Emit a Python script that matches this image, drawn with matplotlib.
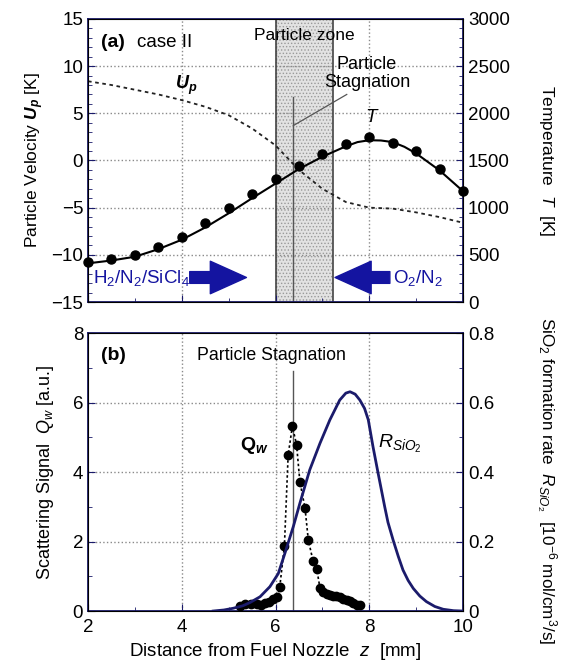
import numpy as np
import matplotlib
matplotlib.use('Agg')
import matplotlib.pyplot as plt
from matplotlib.ticker import MultipleLocator

plt.rcParams['font.family'] = ['Liberation Sans', 'DejaVu Sans']
plt.rcParams['mathtext.fontset'] = 'custom'
plt.rcParams['mathtext.rm'] = 'Liberation Sans'
plt.rcParams['mathtext.it'] = 'Liberation Sans:italic'
plt.rcParams['mathtext.bf'] = 'Liberation Sans:bold'
plt.rcParams['mathtext.sf'] = 'Liberation Sans:italic:bold'
plt.rcParams['hatch.linewidth'] = 0.6

# --- Data (a) ---
z_T = [2.0, 2.5, 3.0, 3.5, 4.0, 4.5, 5.0, 5.5, 6.0, 6.5, 7.0, 7.5, 8.0, 8.5, 9.0, 9.5, 10.0]
T_meas = [420, 455, 500, 585, 685, 835, 1000, 1150, 1305, 1445, 1570, 1680, 1745, 1685, 1605, 1410, 1180]

z_Tfit = [2.0, 2.5, 3.0, 3.5, 4.0, 4.5, 5.0, 5.5, 6.0, 6.5, 7.0, 7.5, 7.75, 8.0, 8.25, 8.5, 8.75, 9.0, 9.5, 10.0]
T_fit = [410, 440, 480, 560, 660, 790, 940, 1100, 1255, 1410, 1540, 1650, 1695, 1715, 1712, 1695, 1645, 1575, 1395, 1175]

z_Up = [2.0, 2.5, 3.0, 3.5, 4.0, 4.5, 5.0, 5.5, 6.0, 6.25, 6.5, 7.0, 7.5, 8.0, 8.5, 9.0, 9.5, 10.0]
Up = [8.4, 8.0, 7.5, 7.0, 6.4, 5.7, 4.8, 3.4, 1.6, 0.3, -1.0, -3.0, -4.4, -5.0, -5.1, -5.5, -6.0, -6.6]

# --- Data (b) ---
z_Q = [5.24, 5.35, 5.47, 5.6, 5.69, 5.78, 5.86, 5.94, 6.04, 6.09, 6.19, 6.27, 6.36, 6.45, 6.52,
       6.63, 6.70, 6.80, 6.88, 6.95, 7.02, 7.09, 7.16, 7.23, 7.30, 7.37, 7.45, 7.52, 7.59, 7.66, 7.73, 7.80]
Q_w = [0.14, 0.20, 0.20, 0.20, 0.17, 0.22, 0.27, 0.35, 0.40, 0.68, 1.87, 4.49, 5.32, 4.78, 3.72,
       2.96, 2.04, 1.45, 1.21, 0.65, 0.55, 0.50, 0.47, 0.43, 0.42, 0.41, 0.36, 0.32, 0.30, 0.24, 0.17, 0.18]

z_R = [4.67, 4.90, 5.10, 5.30, 5.45, 5.67, 5.88, 6.06, 6.20, 6.38, 6.52, 6.73, 6.95, 7.16, 7.37, 7.50, 7.59,
       7.70, 7.80, 7.90, 7.98, 8.08, 8.19, 8.33, 8.40, 8.51, 8.62, 8.72, 8.83, 8.94, 9.08, 9.22, 9.40, 9.58,
       9.80, 10.0]
R_SiO2 = [0.0, 0.003, 0.008, 0.015, 0.024, 0.041, 0.07, 0.108, 0.166, 0.243, 0.31, 0.406, 0.483, 0.55, 0.607,
          0.627, 0.631, 0.624, 0.607, 0.583, 0.55, 0.473, 0.396, 0.30, 0.255, 0.204, 0.157, 0.118, 0.088,
          0.065, 0.043, 0.027, 0.013, 0.005, 0.001, 0.0]

z_zone = [6.0, 7.23]
z_stag = 6.38

navy = '#1b1b6b'
arrow_blue = '#1414a0'
grid_kw = dict(color='#8a8a8a', linestyle=':', linewidth=1.0)

fig = plt.figure(figsize=(5.66, 6.61), dpi=100)
ax = fig.add_axes([0.1555, 0.5431, 0.6625, 0.4282])
ax2 = ax.twinx()
bx = fig.add_axes([0.1555, 0.0756, 0.6625, 0.4206])
bx2 = bx.twinx()


def style_axes(a, b):
    for s in a.spines.values():
        s.set_color(navy)
        s.set_linewidth(1.3)
    for t in (a, b):
        t.tick_params(which='both', direction='in', labelsize=13.5, color=navy)
        t.tick_params(which='major', length=5)
        t.tick_params(which='minor', length=3)
    a.tick_params(axis='x', which='both', top=False, pad=6)


# --- Panel (a) ---
ax.axvspan(z_zone[0], z_zone[1], facecolor='#e2e2e2', edgecolor='#9a9a9a', hatch='.....', linewidth=0, zorder=0)
ax.axvline(z_zone[0], color='#444444', lw=1.2, zorder=1)
ax.axvline(z_zone[1], color='#444444', lw=1.2, zorder=1)
for xv in [4, 6, 8]:
    ax.axvline(xv, zorder=0.5, **grid_kw)
for yv in [-10, -5, 0, 5, 10]:
    ax.axhline(yv, zorder=0.5, **grid_kw)
ax.plot([z_stag, z_stag], [-15, 6.7], color='#555555', lw=1.0, zorder=2)
ax.plot([z_stag, 7.52], [3.7, 7.0], color='#555555', lw=0.9, zorder=2)
ax.plot(z_Up, Up, color='#222222', linestyle=(0, (2, 2)), lw=1.3, zorder=3)
ax2.plot(z_Tfit, T_fit, color='black', lw=1.5, zorder=3)
ax2.plot(z_T, T_meas, 'o', color='black', markersize=6.5, zorder=4, clip_on=False)

ax.set_xlim(2, 10)
ax.set_ylim(-15, 15)
ax2.set_ylim(0, 3000)
ax.xaxis.set_major_locator(MultipleLocator(2))
ax.xaxis.set_minor_locator(MultipleLocator(1))
ax.yaxis.set_major_locator(MultipleLocator(5))
ax.yaxis.set_minor_locator(MultipleLocator(1))
ax2.yaxis.set_major_locator(MultipleLocator(500))
ax2.yaxis.set_minor_locator(MultipleLocator(100))
ax.tick_params(axis='x', labelbottom=False)
style_axes(ax, ax2)

ax.set_ylabel('Particle Velocity $\\mathsf{U_p}$ [K]', fontsize=12.5, labelpad=4)
ax2.set_ylabel('Temperature  $T$  [K]', fontsize=12.5, rotation=270, labelpad=33)

ax.text(2.28, 12.5, '(a)', fontsize=14, fontweight='bold', va='center')
ax.text(3.05, 12.5, 'case II', fontsize=13.5, va='center')
ax.text(6.62, 13.3, 'Particle zone', fontsize=12.5, ha='center', va='center')
ax.text(4.1, 8.0, '$\\mathsf{U_p}$', fontsize=13, ha='center', va='center')
ax.text(8.06, 4.6, '$T$', fontsize=13.5, ha='center', va='center')
ax.text(7.95, 9.2, 'Particle\nStagnation', fontsize=13, ha='center', va='center', linespacing=1.05)
ax.text(2.1, -12.5, 'H$_2$/N$_2$/SiCl$_4$', fontsize=13.5, va='center', color=arrow_blue)
ax.text(8.5, -12.5, 'O$_2$/N$_2$', fontsize=13.5, va='center', color=arrow_blue)
arrow_kw = dict(arrowstyle='simple,head_length=2.0,head_width=1.8,tail_width=0.65',
                color=arrow_blue, mutation_scale=13, shrinkA=0, shrinkB=0)
ax.annotate('', xy=(5.38, -12.4), xytext=(4.17, -12.4), arrowprops=arrow_kw)
ax.annotate('', xy=(7.27, -12.4), xytext=(8.44, -12.4), arrowprops=arrow_kw)

# --- Panel (b) ---
for xv in [4, 6, 8]:
    bx.axvline(xv, zorder=0.5, **grid_kw)
for yv in [2, 4, 6]:
    bx.axhline(yv, zorder=0.5, **grid_kw)
bx.plot([z_stag, z_stag], [0, 6.9], color='#555555', lw=1.0, zorder=2)
bx.plot(z_Q, Q_w, color='black', linestyle=(0, (1.5, 1.5)), lw=1.2, marker='o', markersize=6, zorder=4)
bx2.plot(z_R, R_SiO2, color=navy, lw=2.0, zorder=3)

bx.set_xlim(2, 10)
bx.set_ylim(0, 8)
bx2.set_ylim(0, 0.8)
bx.xaxis.set_major_locator(MultipleLocator(2))
bx.xaxis.set_minor_locator(MultipleLocator(1))
bx.yaxis.set_major_locator(MultipleLocator(2))
bx.yaxis.set_minor_locator(MultipleLocator(1))
bx2.set_yticks([0, 0.2, 0.4, 0.6, 0.8])
bx2.set_yticklabels(['0', '0.2', '0.4', '0.6', '0.8'])
bx2.yaxis.set_minor_locator(MultipleLocator(0.1))
style_axes(bx, bx2)

bx.set_xlabel('Distance from Fuel Nozzle  $z$  [mm]', fontsize=13.5, labelpad=3)
bx.set_ylabel('Scattering Signal  $Q_w$ [a.u.]', fontsize=13, labelpad=12)
bx2.set_ylabel('SiO$_2$ formation rate  $R_{SiO_2}$  [10$^{-6}$ mol/cm$^3$/s]',
               fontsize=12.3, rotation=270, labelpad=40)
bx2.yaxis.set_label_coords(1.255, 0.47)

bx.text(2.28, 7.35, '(b)', fontsize=14, fontweight='bold', va='center')
bx.text(5.92, 7.35, 'Particle Stagnation', fontsize=12.8, ha='center', va='center')
bx.text(5.55, 4.75, '$\\mathbf{Q}_{\\mathsf{w}}$', fontsize=14, ha='center', va='center')
bx.text(8.65, 4.8, '$R_{SiO_2}$', fontsize=14, ha='center', va='center')

fig.savefig('out.png', dpi=100)
